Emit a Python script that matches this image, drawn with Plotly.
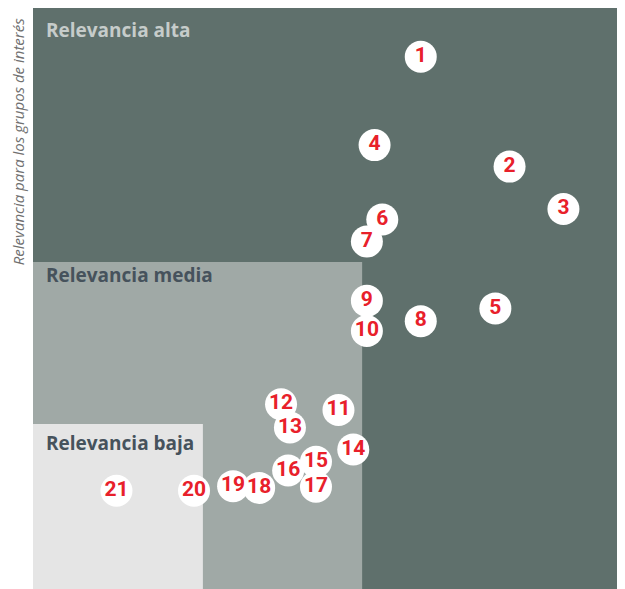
import plotly.graph_objects as go

# puntos de la matriz de materialidad (0-100 en ambos ejes)
labels = [str(i) for i in range(1, 22)]
x_vals = [65.5, 80.5, 89.6, 57.7, 78.1, 59.0, 56.4, 65.5, 56.4, 56.4,
          51.6, 41.9, 43.4, 54.1, 47.8, 43.1, 47.8, 38.2, 33.8, 27.2, 14.1]
y_vals = [91.6, 72.7, 65.4, 76.4, 48.3, 63.6, 59.8, 46.1, 49.6, 44.4,
          30.8, 31.8, 27.8, 24.0, 21.9, 20.4, 17.6, 17.4, 17.7, 16.9, 16.9]

# zonas de relevancia (limite superior x, y)
zone_names = ["Relevancia alta", "Relevancia media", "Relevancia baja"]
zone_x = [100, 55.6, 28.7]
zone_y = [100, 56.3, 28.4]
zone_colors = ["#5f706c", "#a0a9a6", "#e5e5e5"]
zone_text_colors = ["#c6ccca", "#46525c", "#46525c"]
zone_label_y = [96.2, 54.0, 25.1]

fig = go.Figure()

fig.add_trace(go.Scatter(
    x=x_vals,
    y=y_vals,
    mode='markers+text',
    text=labels,
    textposition='middle center',
    textfont=dict(family='Roboto', size=21, color='#e8202a', weight='bold'),
    marker=dict(size=32, color='white', line=dict(width=0)),
    hoverinfo='text',
    showlegend=False
))

shapes = []
annotations = []
for name, zx, zy, col, tcol, ly in zip(zone_names, zone_x, zone_y, zone_colors,
                                       zone_text_colors, zone_label_y):
    shapes.append(dict(type='rect', xref='x', yref='y', x0=0, y0=0, x1=zx, y1=zy,
                       fillcolor=col, line=dict(width=0), layer='below'))
    annotations.append(dict(text=name, x=1.9, y=ly, xref='x', yref='y',
                            xanchor='left', yanchor='middle', showarrow=False,
                            font=dict(family='Open Sans', size=19, color=tcol, weight='bold')))

# titulo del eje vertical
annotations.append(dict(text='<i>Relevancia para los grupos de interés</i>',
                        xref='paper', yref='paper', x=0, y=0.769, xshift=-15,
                        xanchor='center', yanchor='middle', textangle=-90, showarrow=False,
                        borderpad=0, borderwidth=0,
                        font=dict(family='Open Sans', size=15, color='#707070')))

# la pagina tiene 8px de margen, por eso 617x581
fig.update_layout(
    width=617,
    height=581,
    margin=dict(l=25, r=0, t=0, b=0),
    paper_bgcolor='white',
    plot_bgcolor='white',
    shapes=shapes,
    annotations=annotations,
    xaxis=dict(range=[0, 100], showgrid=False, zeroline=False, showticklabels=False,
               fixedrange=True),
    yaxis=dict(range=[0, 100], showgrid=False, zeroline=False, showticklabels=False,
               fixedrange=True),
)

fig.write_html("out.html")
